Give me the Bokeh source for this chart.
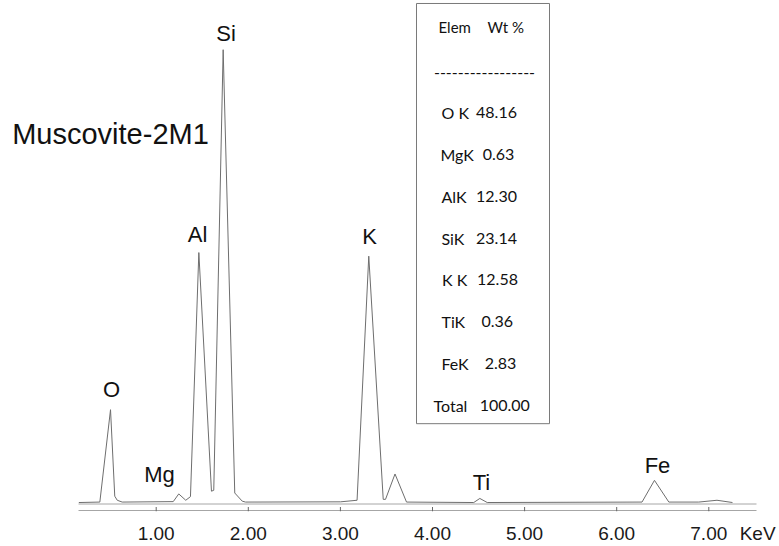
from bokeh.plotting import figure
from bokeh.models import Range1d, FixedTicker, NumeralTickFormatter
from bokeh.core.properties import value
from bokeh.embed import file_html
from bokeh.resources import INLINE

# ---------------- data ----------------
energy_kev = [0.16, 0.388, 0.504, 0.550, 0.577, 0.631, 1.185, 1.245, 1.321, 1.372,
              1.463, 1.600, 1.625, 1.727, 1.853, 1.934, 1.970, 3.001, 3.181, 3.308,
              3.465, 3.490, 3.593, 3.718, 4.448, 4.514, 4.594, 6.275, 6.410, 6.566,
              6.891, 7.089, 7.257]
intensity = [0.0, 0.1, 20.5, 1.4, 0.5, 0.1, 0.2, 1.9, 0.5, 1.3,
             55.2, 2.5, 2.7, 100.0, 2.1, 0.3, 0.1, 0.15, 0.5, 54.4,
             0.7, 0.7, 6.3, 0.1, 0.0, 0.9, 0.0, 0.1, 4.9, 0.1,
             0.1, 0.5, 0.0]

peak_names = ["O", "Mg", "Al", "Si", "K", "Ti", "Fe"]

table_elems = ["O K", "MgK", "AlK", "SiK", "K K", "TiK", "FeK"]
table_wt = [48.16, 0.63, 12.30, 23.14, 12.58, 0.36, 2.83]
table_total = 100.00

tick_values = [1, 2, 3, 4, 5, 6, 7]
sample_name = "Muscovite-2M1"
unit_label = "KeV"

# ---------------- layout (pixel space of the picture) ----------------
W, H = 779, 546
FRAME_BOTTOM = 512
X0_PX, PX_PER_KEV = 63.6, 92.1      # 0 keV at 63.6 px
BASE_PX, PX_PER_UNIT = 503.0, 4.537  # zero intensity at 503 px


def sx(px):
    return (px - X0_PX) / PX_PER_KEV


def sy(py):
    return (BASE_PX - py) / PX_PER_UNIT


# label anchors (centre x, centre y) in pixels
peak_label_px = [(111, 390), (159, 475), (197, 234.7), (225.5, 33.5),
                 (369, 236), (481, 483), (657, 465.7)]
unit_tick = 7.53   # position of the unit text along the axis (px ~757)

p = figure(width=W, height=H, output_backend="svg", toolbar_location=None,
           x_range=Range1d(sx(0), sx(W)), y_range=Range1d(sy(FRAME_BOTTOM), sy(0)),
           y_axis_location=None, min_border_left=0, min_border_right=0,
           min_border_top=0, min_border_bottom=H - FRAME_BOTTOM)
p.outline_line_color = None
p.grid.visible = False
p.background_fill_color = "white"
p.border_fill_color = "white"

# axis (labels only; tick marks drawn below)
ax = p.xaxis[0]
ax.ticker = FixedTicker(ticks=tick_values + [unit_tick])
ax.formatter = NumeralTickFormatter(format="0.00")
ax.major_label_overrides = {unit_tick: unit_label}
ax.axis_line_color = None
ax.major_tick_line_color = None
ax.major_tick_in = 0
ax.major_tick_out = 0
ax.minor_tick_line_color = None
ax.major_label_standoff = 11
ax.major_label_text_font = "Liberation Sans"
ax.major_label_text_font_size = "19px"
ax.major_label_text_color = "#1a1a1a"

# double base lines
line_start, line_end = sx(78), sx(756)
p.segment(x0=[line_start, line_start], x1=[line_end, line_end],
          y0=[sy(504.5), sy(511)], y1=[sy(504.5), sy(511)],
          line_color="#a6a6a6", line_width=1)
# tick marks
p.segment(x0=tick_values, x1=tick_values,
          y0=[sy(507.5)] * len(tick_values), y1=[sy(512)] * len(tick_values),
          line_color="#666666", line_width=1)

# spectrum
p.line(energy_kev, intensity, line_color="#6e6e6e", line_width=1)

# peak labels
p.text(x=[sx(a) for a, b in peak_label_px], y=[sy(b) for a, b in peak_label_px],
       text=peak_names, text_font=value("Liberation Sans"), text_font_size="22px",
       text_align="center", text_baseline="middle", text_color="#111111")

# sample name
p.text(x=[sx(11.7)], y=[sy(133.3)], text=[sample_name],
       text_font=value("Liberation Sans"), text_font_size="29px",
       text_align="left", text_baseline="middle", text_color="#111111")

# composition table
p.quad(left=[sx(416)], right=[sx(549)], top=[sy(3)], bottom=[sy(424)],
       fill_color=None, line_color="#7a7a7a", line_width=1)

tfont = value("Lato")
tsize = "16px"
p.text(x=[sx(438), sx(487)], y=[sy(27), sy(27)], text=["Elem", "Wt %"],
       text_font=tfont, text_font_size="15px", text_align="left",
       text_baseline="middle", text_color="#111111")
p.text(x=[sx(484)], y=[sy(72)], text=["-" * 17],
       text_font=tfont, text_font_size=tsize, text_align="center",
       text_baseline="middle", text_color="#111111")

row0, step = 112, 42.0
names = table_elems + ["Total"]
vals = ["%.2f" % v for v in table_wt] + ["%.2f" % table_total]
name_x = [441, 440, 441, 441, 441.5, 441, 441, 433]
val_cx = [496, 498, 496, 496, 497, 496.7, 500, 504.3]
ys = [sy(row0 + i * step) for i in range(len(names))]
p.text(x=[sx(v) for v in name_x], y=ys, text=names, text_font=tfont,
       text_font_size=tsize, text_align="left", text_baseline="middle",
       text_color="#111111")
p.text(x=[sx(v) for v in val_cx], y=ys, text=vals, text_font=tfont,
       text_font_size=tsize, text_align="center", text_baseline="middle",
       text_color="#111111")

open("out.html", "w").write(file_html(p, INLINE))
